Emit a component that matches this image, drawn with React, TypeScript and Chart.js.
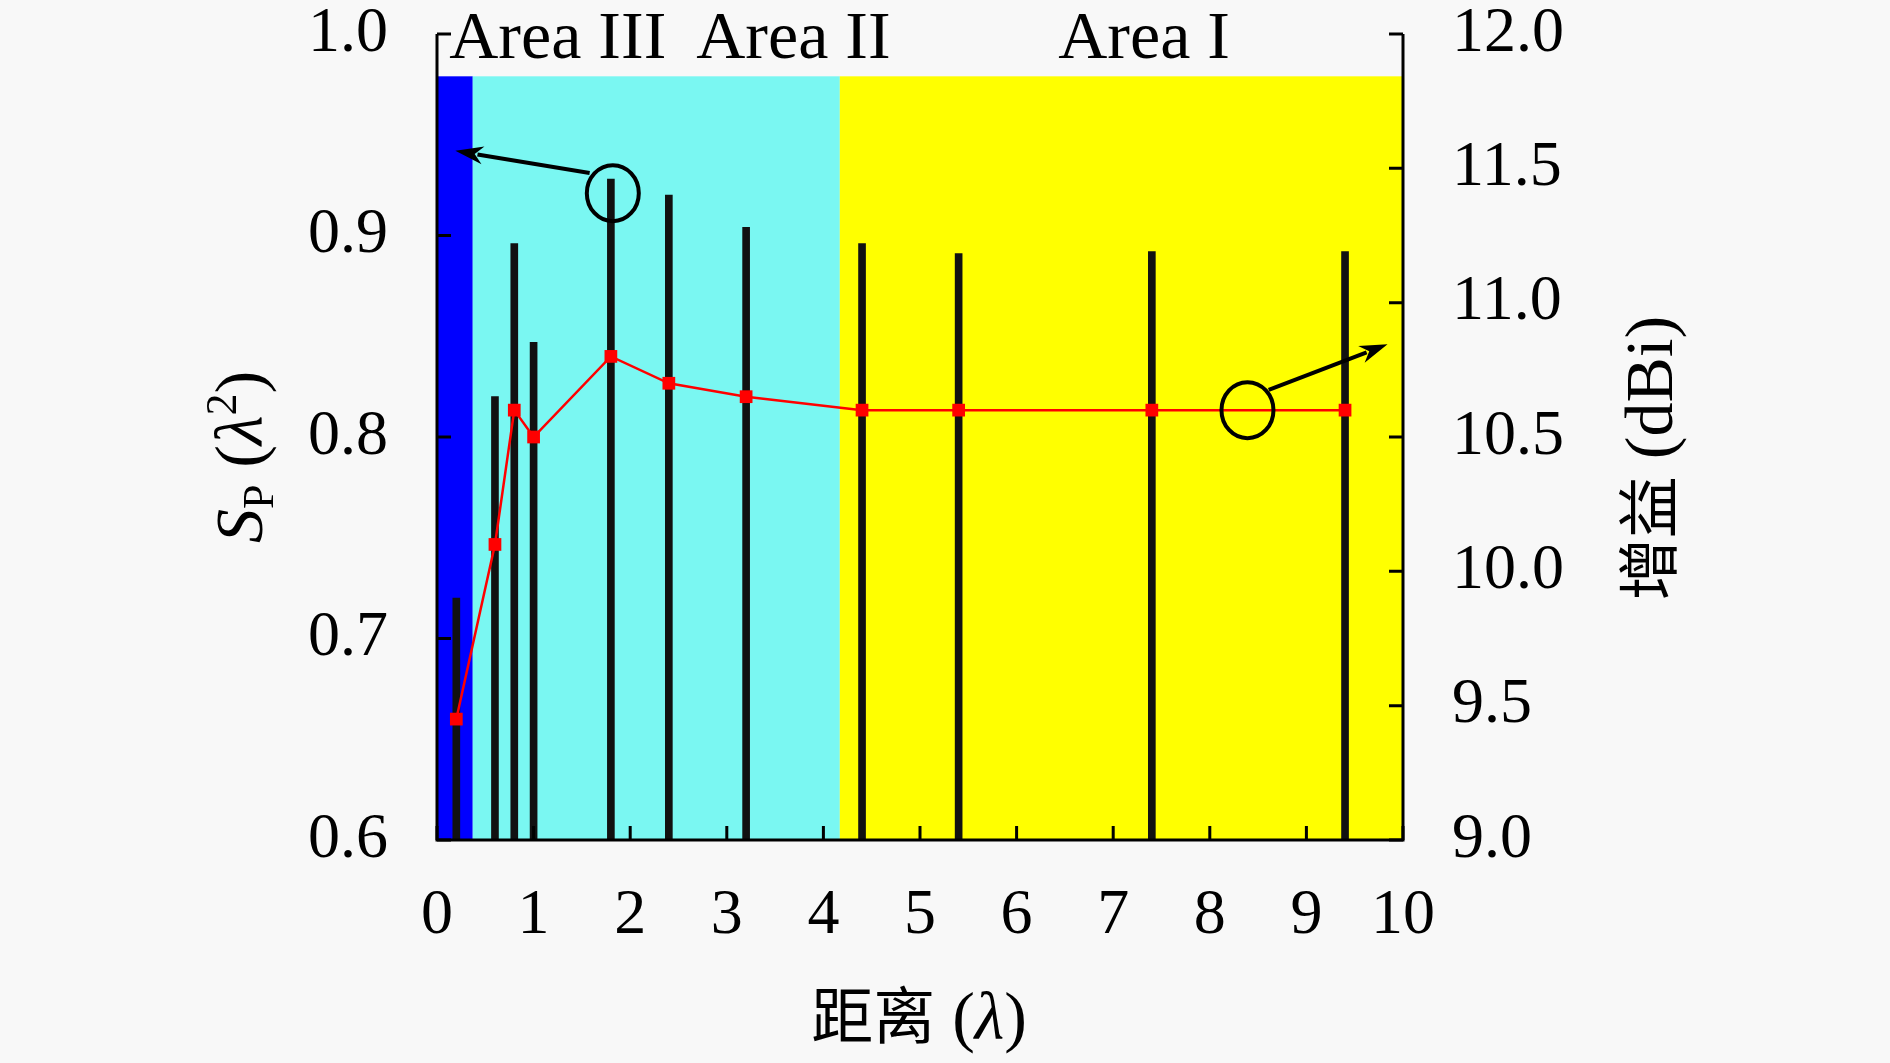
import { useEffect, useRef } from 'react';
import { Chart, registerables } from 'chart.js';

Chart.register(...registerables);

// distance (λ) of each sample, S_P bars (left axis) and gain (right axis)
const distances = [0.2, 0.6, 0.8, 1.0, 1.8, 2.4, 3.2, 4.4, 5.4, 7.4, 9.4];
const spValues = [0.72, 0.82, 0.896, 0.847, 0.928, 0.92, 0.904, 0.896, 0.891, 0.892, 0.892];
const gainValues = [9.45, 10.1, 10.6, 10.5, 10.8, 10.7, 10.65, 10.6, 10.6, 10.6, 10.6];

// shaded areas along the distance axis
const areaBounds = [0, 0.37, 4.17, 10];
const areaColors = ['#0000ff', '#7af7f2', '#ffff00'];
const areaTop = 0.979;
const areaLabels = ['Area III', 'Area II', 'Area I'];
const areaLabelX = [1.25, 3.69, 7.32];

// annotation circles / arrows (data coords)
const circleLeft = { x: 1.82, y: 0.921 };
const arrowLeft = { x0: 1.58, y0: 0.931, x1: 0.19, y1: 0.942 };
const circleRight = { x: 8.39, y: 10.6 };
const arrowRight = { x0: 8.61, y0: 10.675, x1: 9.84, y1: 10.845 };

const xTicks = [0, 1, 2, 3, 4, 5, 6, 7, 8, 9, 10];
const leftTicks = [0.6, 0.7, 0.8, 0.9, 1.0];
const rightTicks = [9.0, 9.5, 10.0, 10.5, 11.0, 11.5, 12.0];

const SERIF = '"Liberation Serif", "DejaVu Serif", serif';
const CJK = '"Noto Sans CJK SC", sans-serif';
const FONT = 64;
const TITLE = 68;

type Part = { t: string; f: string; dy?: number };

function drawRich(ctx: CanvasRenderingContext2D, parts: Part[], cx: number, cy: number, angle: number) {
  ctx.save();
  ctx.translate(cx, cy);
  ctx.rotate(angle);
  ctx.textBaseline = 'alphabetic';
  ctx.textAlign = 'left';
  ctx.fillStyle = '#000';
  let total = 0;
  for (const p of parts) {
    ctx.font = p.f;
    total += ctx.measureText(p.t).width;
  }
  let x = -total / 2;
  for (const p of parts) {
    ctx.font = p.f;
    ctx.fillText(p.t, x, 21 + (p.dy || 0));
    x += ctx.measureText(p.t).width;
  }
  ctx.restore();
}

function drawArrow(ctx: CanvasRenderingContext2D, x0: number, y0: number, x1: number, y1: number) {
  const a = Math.atan2(y1 - y0, x1 - x0);
  const len = 28;
  const hw = 9;
  ctx.beginPath();
  ctx.moveTo(x0, y0);
  ctx.lineTo(x1 - Math.cos(a) * len * 0.8, y1 - Math.sin(a) * len * 0.8);
  ctx.stroke();
  ctx.beginPath();
  ctx.moveTo(x1, y1);
  ctx.lineTo(x1 - Math.cos(a) * len - Math.sin(a) * hw, y1 - Math.sin(a) * len + Math.cos(a) * hw);
  ctx.lineTo(x1 - Math.cos(a) * len * 0.7, y1 - Math.sin(a) * len * 0.7);
  ctx.lineTo(x1 - Math.cos(a) * len + Math.sin(a) * hw, y1 - Math.sin(a) * len - Math.cos(a) * hw);
  ctx.closePath();
  ctx.fill();
}

const framePlugin = {
  id: 'frame',
  beforeDatasetsDraw(chart: any) {
    const { ctx, chartArea, scales } = chart;
    const { x, y } = scales;
    const top = y.getPixelForValue(areaTop);
    ctx.save();
    for (let i = 0; i < areaColors.length; i++) {
      const l = x.getPixelForValue(areaBounds[i]);
      const r = x.getPixelForValue(areaBounds[i + 1]);
      ctx.fillStyle = areaColors[i];
      ctx.fillRect(l, top, r - l, chartArea.bottom - top);
    }
    ctx.restore();
  },
  afterDatasetsDraw(chart: any) {
    const { ctx, chartArea, scales } = chart;
    const { x, y, y1 } = scales;
    const { left, right, top, bottom } = chartArea;
    ctx.save();
    ctx.strokeStyle = '#000';
    ctx.fillStyle = '#000';
    ctx.lineCap = 'butt';

    // axis lines
    ctx.lineWidth = 3;
    ctx.beginPath();
    ctx.moveTo(left, top);
    ctx.lineTo(left, bottom);
    ctx.lineTo(right, bottom);
    ctx.lineTo(right, top);
    ctx.stroke();

    // inside ticks
    ctx.lineWidth = 3;
    const tl = 14;
    ctx.beginPath();
    for (const v of leftTicks) {
      const py = y.getPixelForValue(v);
      ctx.moveTo(left, py);
      ctx.lineTo(left + tl, py);
    }
    for (const v of rightTicks) {
      const py = y1.getPixelForValue(v);
      ctx.moveTo(right, py);
      ctx.lineTo(right - tl, py);
    }
    for (const v of xTicks) {
      const px = x.getPixelForValue(v);
      ctx.moveTo(px, bottom);
      ctx.lineTo(px, bottom - tl);
    }
    ctx.stroke();

    // annotations
    ctx.lineWidth = 4;
    ctx.beginPath();
    ctx.ellipse(x.getPixelForValue(circleLeft.x), y.getPixelForValue(circleLeft.y), 26, 28, 0, 0, Math.PI * 2);
    ctx.stroke();
    ctx.beginPath();
    ctx.ellipse(x.getPixelForValue(circleRight.x), y1.getPixelForValue(circleRight.y), 26, 28, 0, 0, Math.PI * 2);
    ctx.stroke();
    drawArrow(
      ctx,
      x.getPixelForValue(arrowLeft.x0),
      y.getPixelForValue(arrowLeft.y0),
      x.getPixelForValue(arrowLeft.x1),
      y.getPixelForValue(arrowLeft.y1)
    );
    drawArrow(
      ctx,
      x.getPixelForValue(arrowRight.x0),
      y1.getPixelForValue(arrowRight.y0),
      x.getPixelForValue(arrowRight.x1),
      y1.getPixelForValue(arrowRight.y1)
    );

    // area labels
    ctx.font = `${TITLE}px ${SERIF}`;
    ctx.textAlign = 'center';
    ctx.textBaseline = 'alphabetic';
    areaLabels.forEach((t, i) => {
      ctx.fillText(t, x.getPixelForValue(areaLabelX[i]), top + 24);
    });
    ctx.restore();

    // axis titles
    const big = `${TITLE}px ${SERIF}`;
    const ital = `italic ${TITLE}px ${SERIF}`;
    const small = `${Math.round(TITLE * 0.65)}px ${SERIF}`;
    const cjk = `${TITLE - 6}px ${CJK}`;
    drawRich(
      ctx,
      [
        { t: 'S', f: ital },
        { t: 'P', f: small, dy: 11 },
        { t: ' (', f: big },
        { t: 'λ', f: ital },
        { t: '2', f: small, dy: -26 },
        { t: ')', f: big },
      ],
      241,
      457,
      -Math.PI / 2
    );
    drawRich(
      ctx,
      [
        { t: '增益', f: cjk },
        { t: ' (dBi)', f: big },
      ],
      1651,
      458,
      -Math.PI / 2
    );
    drawRich(
      ctx,
      [
        { t: '距离', f: cjk },
        { t: ' (', f: big },
        { t: 'λ', f: ital },
        { t: ')', f: big },
      ],
      919,
      1018,
      0
    );
  },
};

export default function App() {
  const chartRef = useRef<HTMLCanvasElement | null>(null);

  useEffect(() => {
    if (!chartRef.current) return;
    const tickFont = { family: SERIF, size: FONT, lineHeight: 1 };
    const chart = new Chart(chartRef.current, {
      type: 'bar',
      data: {
        datasets: [
          {
            type: 'line',
            data: distances.map((d, i) => ({ x: d, y: gainValues[i] })),
            yAxisID: 'y1',
            borderColor: '#ff0000',
            borderWidth: 2.5,
            pointStyle: 'rect',
            pointRadius: 9,
            pointBackgroundColor: '#ff0000',
            pointBorderWidth: 0,
            order: 0,
          } as any,
          {
            type: 'bar',
            data: distances.map((d, i) => ({ x: d, y: spValues[i] })),
            yAxisID: 'y',
            backgroundColor: '#111111',
            barThickness: 7,
            base: leftTicks[0],
            order: 1,
          } as any,
        ],
      },
      options: {
        responsive: true,
        maintainAspectRatio: false,
        animation: false,
        layout: { padding: { top: 34, left: 0, right: 0, bottom: 0 } },
        plugins: { legend: { display: false }, tooltip: { enabled: false } },
        scales: {
          x: {
            type: 'linear',
            min: 0,
            max: 10,
            offset: false,
            ticks: { stepSize: 1, padding: 44, font: tickFont, color: '#000', maxRotation: 0 },
            grid: { display: false, drawTicks: false },
            border: { display: false },
            afterFit: (s: any) => {
              s.height = 223;
              s.paddingLeft = 0;
              s.paddingRight = 0;
            },
          },
          y: {
            type: 'linear',
            position: 'left',
            min: 0.6,
            max: 1.0,
            ticks: {
              stepSize: 0.1,
              padding: 49,
              font: tickFont,
              color: '#000',
              callback: (v: any) => Number(v).toFixed(1),
            },
            grid: { display: false, drawTicks: false },
            border: { display: false },
            afterFit: (s: any) => {
              s.width = 437;
              s.paddingTop = 0;
              s.paddingBottom = 0;
            },
          },
          y1: {
            type: 'linear',
            position: 'right',
            min: 9,
            max: 12,
            ticks: {
              stepSize: 0.5,
              padding: 49,
              font: tickFont,
              color: '#000',
              callback: (v: any) => Number(v).toFixed(1),
            },
            grid: { display: false, drawTicks: false },
            border: { display: false },
            afterFit: (s: any) => {
              s.width = 487;
              s.paddingTop = 0;
              s.paddingBottom = 0;
            },
          },
        },
      } as any,
      plugins: [framePlugin],
    });

    return () => chart.destroy();
  }, []);

  return (
    <div
      style={{
        position: 'fixed',
        left: 0,
        top: 0,
        width: 1890,
        height: 1063,
        background: '#f8f8f8',
      }}
    >
      <canvas ref={chartRef}></canvas>
    </div>
  );
}
